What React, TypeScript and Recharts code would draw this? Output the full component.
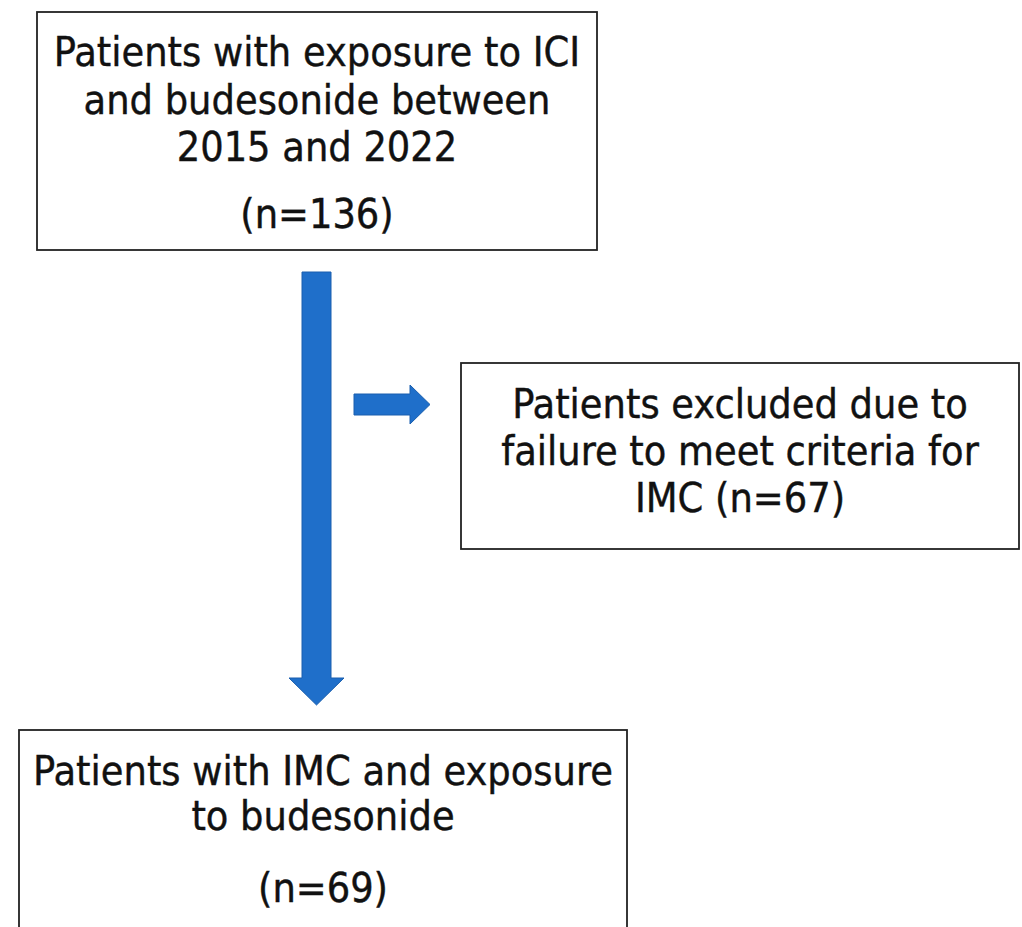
import React from 'react'
import { ComposedChart, XAxis, YAxis, ReferenceArea } from 'recharts'

// flow counts
const counts = [136, 67, 69]

const startLines = ['Patients with exposure to ICI', 'and budesonide between', '2015 and 2022', `(n=${counts[0]})`]
const excludedLines = ['Patients excluded due to', 'failure to meet criteria for', `IMC (n=${counts[1]})`]
const finalLines = ['Patients with IMC and exposure', 'to budesonide', `(n=${counts[2]})`]

const W = 1022
const H = 927
const FONT = '"DejaVu Sans Condensed", "DejaVu Sans", sans-serif'
const FONT_SIZE = 41
const ARROW_FILL = '#1f6fca'
const ARROW_STROKE = '#1a5fae'

// baseline offsets (from box top) for each line
const startOffsets = [54, 102, 149, 216]
const excludedOffsets = [55, 102, 149]
const finalOffsets = [55, 100, 172]

const makeBox = (lines: string[], offsets: number[]) => (props: any) => {
  const { x, y, width, height } = props
  return (
    <g>
      <rect x={x} y={y} width={width} height={height} fill="#fff" stroke="#222" strokeWidth={1.8} />
      {lines.map((t, i) => (
        <text
          key={i}
          x={x + width / 2}
          y={y + offsets[i]}
          textAnchor="middle"
          fontFamily={FONT}
          fontSize={FONT_SIZE}
          fill="#111"
          stroke="#111"
          strokeWidth={0.4}
        >
          {t}
        </text>
      ))}
    </g>
  )
}

const DownArrow = (props: any) => {
  const { x, y, width, height } = props
  const headW = 55
  const headH = 27
  const cx = x + width / 2
  const sy = y + height - headH
  const d = `M${x},${y} L${x + width},${y} L${x + width},${sy} L${cx + headW / 2},${sy} L${cx},${y + height} L${cx - headW / 2},${sy} L${x},${sy} Z`
  return <path d={d} fill={ARROW_FILL} stroke={ARROW_STROKE} strokeWidth={1} />
}

const RightArrow = (props: any) => {
  const { x, y, width, height } = props
  const shaftH = 21
  const headL = 20
  const cy = y + height / 2
  const sx = x + width - headL
  const d = `M${x},${cy - shaftH / 2} L${sx},${cy - shaftH / 2} L${sx},${y} L${x + width},${cy} L${sx},${y + height} L${sx},${cy + shaftH / 2} L${x},${cy + shaftH / 2} Z`
  return <path d={d} fill={ARROW_FILL} stroke={ARROW_STROKE} strokeWidth={1} />
}

export default function App() {
  return (
    <div style={{ position: 'absolute', left: 0, top: 0, background: '#fff' }}>
      <ComposedChart width={W} height={H} margin={{ top: 0, right: 0, bottom: 0, left: 0 }}>
        <XAxis type="number" dataKey="x" domain={[0, W]} hide allowDataOverflow />
        <YAxis type="number" dataKey="y" domain={[0, H]} reversed hide allowDataOverflow width={0} />
        <ReferenceArea x1={37} x2={597} y1={12} y2={250} ifOverflow="visible" shape={makeBox(startLines, startOffsets)} />
        <ReferenceArea x1={302} x2={331} y1={272} y2={705} ifOverflow="visible" shape={DownArrow} />
        <ReferenceArea x1={354} x2={430} y1={385} y2={424} ifOverflow="visible" shape={RightArrow} />
        <ReferenceArea x1={461} x2={1019} y1={363} y2={549} ifOverflow="visible" shape={makeBox(excludedLines, excludedOffsets)} />
        <ReferenceArea x1={19} x2={627} y1={730} y2={940} ifOverflow="visible" shape={makeBox(finalLines, finalOffsets)} />
      </ComposedChart>
    </div>
  )
}
